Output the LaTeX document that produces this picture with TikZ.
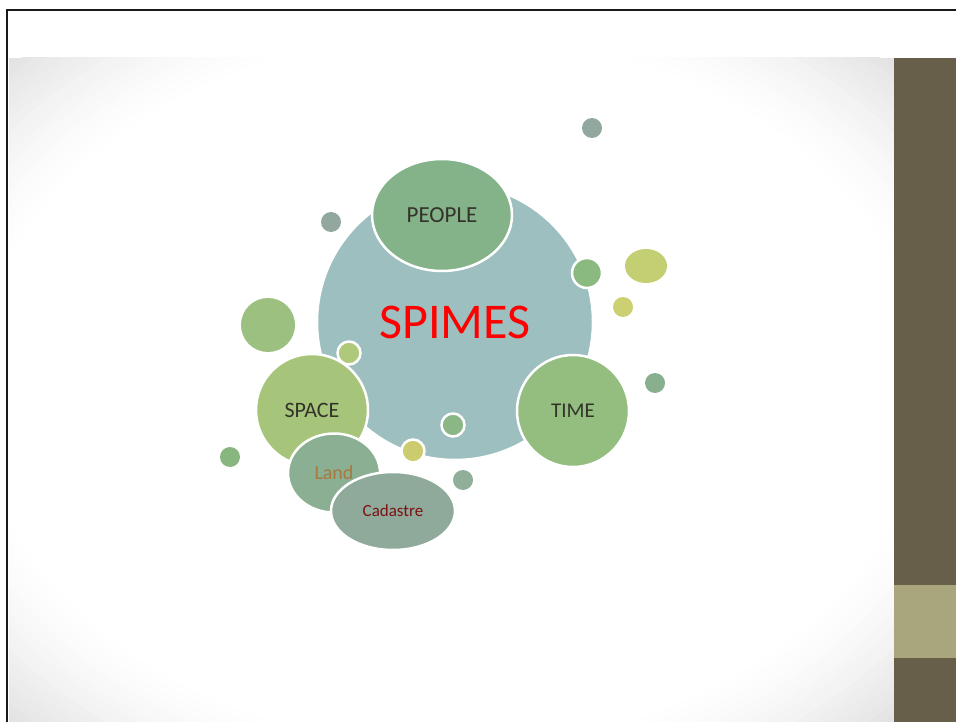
\documentclass[tikz,border=0pt]{standalone}
\usepackage{fontspec}
\setmainfont{Carlito}
\usetikzlibrary{shapes.geometric}
\definecolor{bigc}{HTML}{9DBFBF}
\definecolor{peoplec}{HTML}{84B38A}
\definecolor{timec}{HTML}{93BE7F}
\definecolor{spacec}{HTML}{A6C57A}
\definecolor{landc}{HTML}{8BAF93}
\definecolor{cadc}{HTML}{8FA99A}
\definecolor{grayc}{HTML}{92A89E}
\definecolor{yelc}{HTML}{C3CF72}
\definecolor{yel2c}{HTML}{CDD072}
\definecolor{gg1}{HTML}{88AF8E}
\definecolor{green1}{HTML}{8BBA80}
\definecolor{green2}{HTML}{9BC07F}
\definecolor{green3}{HTML}{AFC97A}
\definecolor{green4}{HTML}{88B67F}
\definecolor{green5}{HTML}{8BB787}
\definecolor{yel3c}{HTML}{CCCC6E}
\definecolor{gg2}{HTML}{8FAF98}
\definecolor{txtc}{HTML}{33332A}
\definecolor{landtxt}{HTML}{A8793E}
\definecolor{cadtxt}{HTML}{7A1212}
\definecolor{bardark}{HTML}{675F49}
\definecolor{barlight}{HTML}{A9A67E}
\tikzset{
  bub/.style={ellipse, draw=white, line width=2.5pt, inner sep=0pt, text=txtc},
  dot/.style={circle, inner sep=0pt}
}
\newcommand{\bubble}[6]{\node[bub, fill=#4, minimum width=#5pt, minimum height=#6pt] (#1) at (#2,#3)}
\begin{document}
\begin{tikzpicture}[x=1pt,y=-1pt]
\useasboundingbox (0,0) rectangle (956,722);
\fill[white] (0,0) rectangle (956,722);
% vignette background, built from stacked ellipses
\begin{scope}
  \clip (9,58) rectangle (894,722);
  \fill[black!11] (9,58) rectangle (894,722);
  \foreach \k in {1,...,16}{
    \pgfmathsetmacro{\t}{1-\k*0.24/16}
    \pgfmathsetmacro{\g}{11*((16-\k)/16)^1.4}
    \fill[black!\g] (451,390) ellipse [x radius=626*\t, y radius=470*\t];
  }
\end{scope}
\fill[bardark] (894,58) rectangle (956,722);
\fill[barlight] (894,585) rectangle (956,658);
\draw[black!90, line width=2.5pt] (7,722) -- (7,10) -- (956,10);
% main bubbles
\bubble{spimes}{455}{322}{bigc}{276}{276}{\fontsize{50}{56}\selectfont\color{red}SPIMES};
\bubble{people}{442}{215}{peoplec}{140}{112}{\fontsize{23}{26}\selectfont PEOPLE};
\bubble{time}{573}{411}{timec}{112}{112}{\fontsize{21}{24}\selectfont TIME};
\bubble{space}{312}{410}{spacec}{112}{112}{\fontsize{22}{24}\selectfont SPACE};
\bubble{land}{334}{473}{landc}{92}{79}{\fontsize{20}{22}\selectfont\color{landtxt}Land};
\bubble{cadastre}{393}{511}{cadc}{124}{78}{\fontsize{17}{20}\selectfont\color{cadtxt}Cadastre};
% small bubbles with white rim
\node[bub, fill=green1, minimum width=30pt, minimum height=30pt] (s1) at (587,273) {};
\node[bub, fill=green3, minimum width=23pt, minimum height=23pt] (s2) at (349,353) {};
\node[bub, fill=green5, minimum width=23pt, minimum height=23pt] (s3) at (453,425) {};
\node[bub, fill=yel3c, minimum width=23pt, minimum height=23pt] (s4) at (413,451) {};
% free dots
\node[dot, fill=grayc, minimum size=20pt] (d1) at (592,128) {};
\node[dot, fill=grayc, minimum size=20pt] (d2) at (331,222) {};
\node[ellipse, inner sep=0pt, fill=yelc, minimum width=42pt, minimum height=34pt] (d3) at (646,266) {};
\node[dot, fill=yel2c, minimum size=20pt] (d4) at (623,307) {};
\node[dot, fill=gg1, minimum size=20pt] (d5) at (655,383) {};
\node[dot, fill=green2, minimum size=54pt] (d6) at (268,325) {};
\node[dot, fill=green4, minimum size=20pt] (d7) at (230,457) {};
\node[dot, fill=gg2, minimum size=20pt] (d8) at (463,480) {};
\end{tikzpicture}
\end{document}
